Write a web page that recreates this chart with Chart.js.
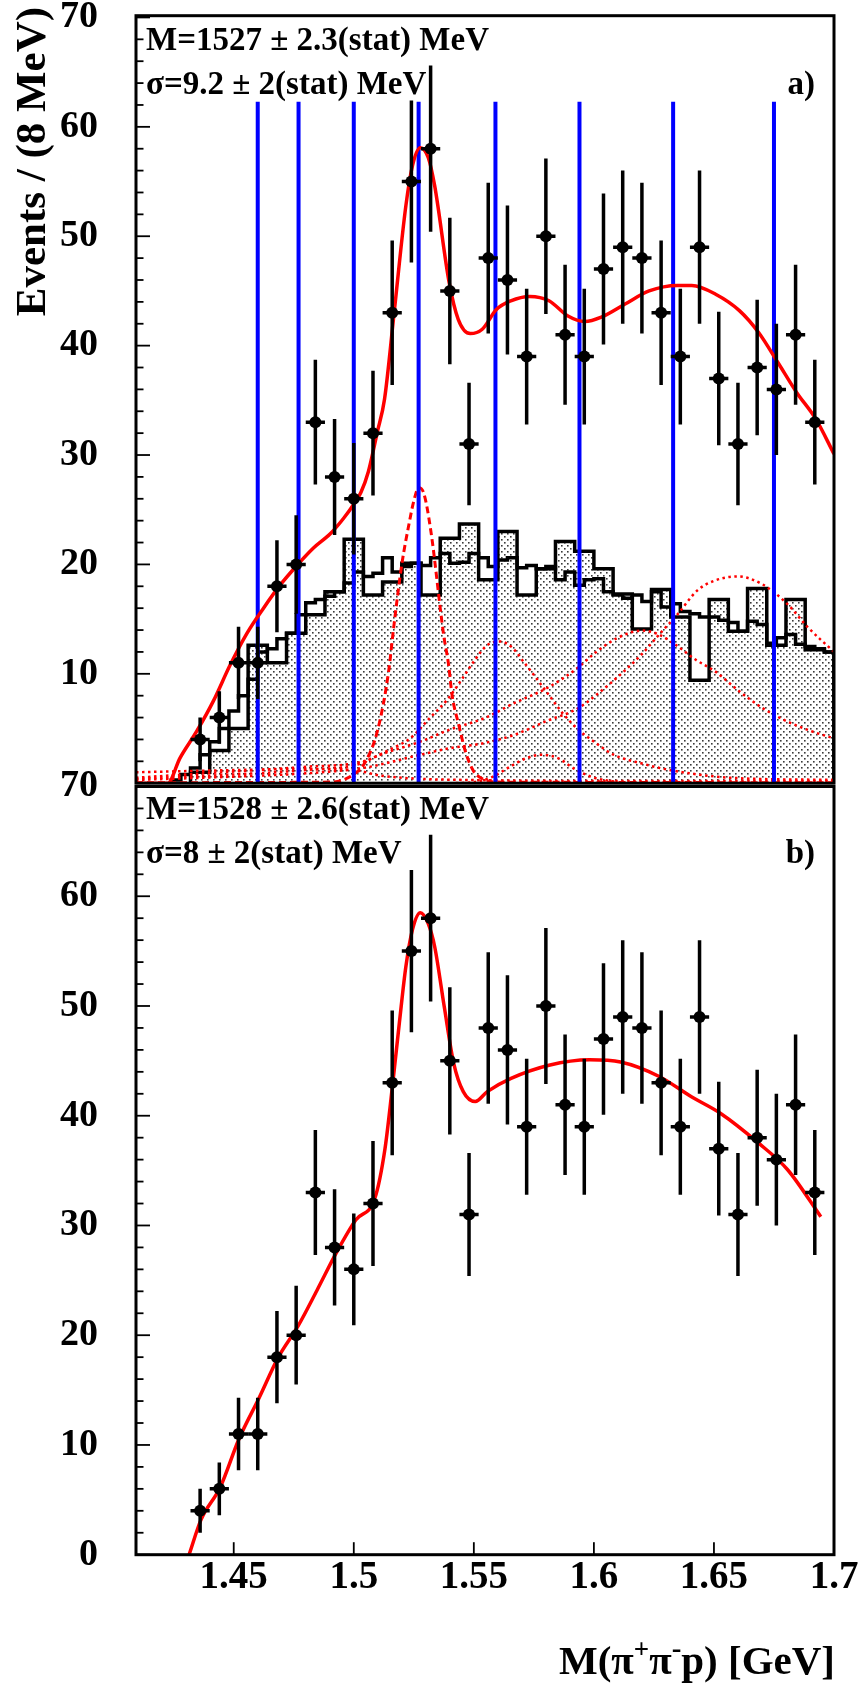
<!DOCTYPE html>
<html><head><meta charset="utf-8">
<script src="https://cdn.jsdelivr.net/npm/chart.js@4.4.1/dist/chart.umd.min.js"></script>
<style>
html,body{margin:0;padding:0;background:#fff;}
#wrap{position:relative;width:865px;height:1686px;overflow:hidden;background:#fff;}
canvas{position:absolute;left:0;}
</style></head><body>
<div id="wrap">
<canvas id="ca" width="865" height="816" style="top:-10px;width:865px;height:816px"></canvas>
<canvas id="cb" width="865" height="946" style="top:740px;width:865px;height:946px"></canvas>
</div>
<script>
// ---------------- data ----------------
const massCenters = [1.436,1.444,1.452,1.460,1.468,1.476,1.484,1.492,1.500,1.508,1.516,1.524,1.532,1.540,1.548,1.556,1.564,1.572,1.580,1.588,1.596,1.604,1.612,1.620,1.628,1.636,1.644,1.652,1.660,1.668,1.676,1.684,1.692];
const events = [4,6,11,11,18,20,33,28,26,32,43,55,58,45,31,48,46,39,50,41,39,47,49,48,43,39,49,37,31,38,36,41,33];
const eventErrors = [2.0,2.4,3.3,3.3,4.2,4.5,5.7,5.3,5.1,5.7,6.6,7.4,7.6,6.7,5.6,6.9,6.8,6.2,7.1,6.4,6.2,6.9,7.0,6.9,6.6,6.2,7.0,6.1,5.6,6.2,6.0,6.4,5.7];
const binHalfWidth = 0.004;

// shaded (dotted-fill) histogram, 8 MeV bins
const shadedEdges = [1.432,1.440,1.448,1.456,1.464,1.472,1.480,1.488,1.496,1.504,1.512,1.520,1.528,1.536,1.544,1.552,1.560,1.568,1.576,1.584,1.592,1.600,1.608,1.616,1.624,1.632,1.640,1.648,1.656,1.664,1.672,1.680,1.688,1.696,1.700];
const shadedValues = [1.0,3.0,5.0,12.6,11.0,13.7,15.4,17.5,22.3,17.2,18.4,20.1,17.2,22.4,23.7,18.6,23.0,17.2,19.6,22.1,21.2,19.6,17.3,14.1,17.7,15.2,9.4,16.8,13.9,17.8,12.6,16.8,12.2,12.0];

// open outline histogram, 4 MeV bins starting at 1.424
const outlineStart = 1.424;
const outlineBinWidth = 0.004;
const outlineValues = [0.3,0.8,1.4,2.6,3.8,5.0,6.6,8.0,9.5,12.0,12.3,13.2,13.7,15.4,16.5,16.8,17.1,17.5,18.3,19.3,18.9,19.2,20.6,19.3,19.8,20.1,19.9,20.6,21.0,20.1,20.2,21.0,20.6,19.8,20.4,20.6,19.7,19.9,19.6,19.8,18.6,19.3,18.1,18.6,18.7,17.5,17.2,16.9,17.2,16.6,17.5,16.1,16.4,15.7,15.5,15.2,15.2,14.9,14.7,13.9,14.8,14.5,12.8,13.3,13.6,12.7,12.5,12.3,12.0];

// total fit, panel a
const fitAX = [1.4093,1.4225,1.4276,1.4346,1.4415,1.4485,1.4555,1.4624,1.4693,1.4763,1.4832,1.4902,1.4957,1.5000,1.5030,1.5061,1.5098,1.5128,1.5168,1.5217,1.5245,1.5277,1.5310,1.5337,1.5397,1.5435,1.5485,1.5535,1.5594,1.5654,1.5733,1.5813,1.5892,1.5962,1.6031,1.6130,1.6230,1.6348,1.6408,1.6507,1.6606,1.6686,1.6765,1.6845,1.6924,1.7000];
const fitAY = [0,0,2.3,4.75,7.5,10.8,13.7,16.0,18.1,19.9,21.5,22.8,24.2,25.5,26.6,28.5,32.1,35.1,43.0,52.8,56.5,58.1,57.2,54.6,45.8,42.4,41.1,41.5,43.3,44.1,44.5,44.1,42.7,42.2,42.6,43.8,45.0,45.5,45.5,44.7,43.2,41.2,38.5,35.7,33.3,30.1];

// signal gaussian (dashed), panel a
const signalX = [1.4093,1.4900,1.5000,1.5050,1.5100,1.5145,1.5166,1.5200,1.5230,1.5250,1.5270,1.5290,1.5320,1.5374,1.5395,1.5409,1.5437,1.5465,1.5499,1.5541,1.5600,1.7000];
const signalY = [0.05,0.1,0.8,2.0,4.9,10.2,14.2,20.0,23.7,25.8,27.0,26.6,23.2,13.6,10.8,8.1,5.35,2.9,1.1,0.35,0.1,0.05];

// background components (dotted), panel a
const comp1X = [1.4093,1.4300,1.4600,1.4800,1.5041,1.5152,1.5235,1.5318,1.5388,1.5450,1.5502,1.5555,1.5610,1.5660,1.5707,1.5760,1.5818,1.5870,1.5930,1.6000,1.6083,1.6200,1.6305,1.6569,1.7000];
const comp1Y = [0.5,0.8,1.2,1.5,2.0,3.1,4.1,6.0,7.6,9.5,11.2,12.6,12.95,12.4,11.1,9.6,7.9,6.4,5.0,3.8,2.6,1.8,1.25,0.5,0.3];
const comp2X = [1.4093,1.4500,1.4800,1.5013,1.5110,1.5277,1.5400,1.5550,1.5666,1.5805,1.5930,1.6010,1.6100,1.6200,1.6270,1.6340,1.6423,1.6506,1.6600,1.6700,1.6800,1.6900,1.7000];
const comp2Y = [0.4,0.8,1.2,1.7,2.6,3.8,4.9,6.0,7.3,8.7,10.5,12.0,13.3,13.95,13.6,12.65,11.3,10.2,8.5,6.9,5.7,4.8,4.1];
const comp3X = [1.5400,1.5500,1.5580,1.5650,1.5720,1.5780,1.5850,1.5920,1.6000,1.6100];
const comp3Y = [0,0.1,0.6,1.5,2.3,2.6,2.3,1.3,0.5,0.1];
const comp4X = [1.4093,1.4500,1.4800,1.5041,1.5277,1.5400,1.5527,1.5666,1.5805,1.5930,1.6006,1.6124,1.6200,1.6272,1.6347,1.6430,1.6500,1.6600,1.6700,1.6805,1.6889,1.7000];
const comp4Y = [0.3,0.6,0.9,1.4,2.6,3.2,3.6,4.4,5.7,6.8,8.0,10.2,11.8,13.6,15.4,17.6,18.5,18.9,18.2,16.4,14.3,12.0];
const comp5X = [1.4093,1.4500,1.4800,1.5000,1.5110,1.5277,1.5450,1.6000,1.7000];
const comp5Y = [1.0,1.2,1.3,1.2,0.7,0.4,0.3,0.2,0.2];

// blue marker lines, panel a
const blueLineMasses = [1.460,1.477,1.500,1.527,1.559,1.594,1.633,1.675];
const blueLineTop = 62.3;

// total fit, panel b
const fitBX = [1.4314,1.4364,1.4445,1.4521,1.4606,1.4686,1.4767,1.4847,1.4927,1.5008,1.5088,1.5130,1.5160,1.5190,1.5217,1.5245,1.5277,1.5310,1.5337,1.5377,1.5416,1.5456,1.5506,1.5556,1.5655,1.5813,1.5982,1.6111,1.6270,1.6408,1.6528,1.6686,1.6806,1.6945];
const fitBY = [0,3.2,6.2,10.5,14.3,18.0,20.8,24.1,27.5,30.5,32.5,37.0,42.5,48.5,53.6,57.0,58.5,57.5,55.4,49.9,44.8,42.2,41.3,42.2,43.4,44.6,45.1,44.9,43.6,41.7,40.2,37.5,35.1,30.8];

// axes
const xMin = 1.4093, xMax = 1.70;
const yTickValues = [0,10,20,30,40,50,60,70];
const xTickValues = [1.45,1.5,1.55,1.6,1.65,1.7];
const xTickLabels = ['1.45','1.5','1.55','1.6','1.65','1.7'];

// ---------------- helpers ----------------
const zip = (xs, ys) => xs.map((x, i) => ({x: x, y: ys[i]}));
function stepPoints(edges, vals) {
  const pts = [{x: edges[0], y: 0}];
  for (let i = 0; i < vals.length; i++) {
    pts.push({x: edges[i], y: vals[i]});
    pts.push({x: edges[i + 1], y: vals[i]});
  }
  pts.push({x: edges[edges.length - 1], y: 0});
  return pts;
}
const outlineEdges = [];
for (let i = 0; i <= outlineValues.length; i++) outlineEdges.push(Math.round((outlineStart + i * outlineBinWidth) * 1e6) / 1e6);

const SERIF = '"Liberation Serif", "Times New Roman", serif';

// dotted fill pattern
const patCanvas = document.createElement('canvas');
patCanvas.width = 6; patCanvas.height = 6;
const pctx = patCanvas.getContext('2d');
pctx.fillStyle = '#ffffff'; pctx.fillRect(0, 0, 6, 6);
pctx.fillStyle = '#3a3a3a';
pctx.fillRect(0, 0, 1.6, 1.6);
pctx.fillRect(3, 3, 1.6, 1.6);
const dotPattern = document.getElementById('ca').getContext('2d').createPattern(patCanvas, 'repeat');

// ---------------- plugin: frame, ticks, error bars, texts ----------------
const panelPlugin = {
  id: 'panel',
  afterDatasetsDraw(chart, args, o) {
    const {ctx, chartArea: ca, scales: {x, y}} = chart;
    ctx.save();
    ctx.beginPath(); ctx.rect(ca.left, ca.top, ca.right - ca.left, ca.bottom - ca.top); ctx.clip();
    ctx.strokeStyle = '#000'; ctx.lineWidth = 3.5; ctx.lineCap = 'butt';
    massCenters.forEach((m, i) => {
      const px = x.getPixelForValue(m), py = y.getPixelForValue(events[i]);
      ctx.beginPath();
      ctx.moveTo(px, y.getPixelForValue(events[i] + eventErrors[i]));
      ctx.lineTo(px, y.getPixelForValue(events[i] - eventErrors[i]));
      ctx.stroke();
      ctx.beginPath();
      ctx.moveTo(x.getPixelForValue(m - binHalfWidth), py);
      ctx.lineTo(x.getPixelForValue(m + binHalfWidth), py);
      ctx.stroke();
    });
    ctx.restore();
  },
  afterDraw(chart, args, o) {
    const {ctx, chartArea: ca, scales: {x, y}} = chart;
    ctx.save();
    ctx.strokeStyle = '#000';
    ctx.lineWidth = 1.8;
    for (let v = 0; v <= 70; v += 2) {
      const py = y.getPixelForValue(v);
      const len = (v % 10 === 0) ? 14 : 7.5;
      ctx.beginPath(); ctx.moveTo(ca.left, py); ctx.lineTo(ca.left + len, py); ctx.stroke();
    }
    if (o.xTicks) {
      xTickValues.forEach(v => {
        const px = x.getPixelForValue(v);
        ctx.beginPath(); ctx.moveTo(px, ca.bottom); ctx.lineTo(px, ca.bottom - 12.5); ctx.stroke();
      });
    }
    ctx.lineWidth = 3;
    ctx.strokeRect(ca.left, ca.top, ca.right - ca.left, ca.bottom - ca.top);

    ctx.fillStyle = '#000';
    ctx.textBaseline = 'alphabetic';
    ctx.font = 'bold 33px ' + SERIF;
    ctx.textAlign = 'left';
    ctx.fillText(o.line1, ca.left + 10, ca.top + o.y1);
    ctx.fillText(o.line2, ca.left + 10, ca.top + o.y2);
    ctx.textAlign = 'right';
    ctx.fillText(o.tag, ca.right - 19, ca.top + o.y2);

    if (o.yTitle) {
      ctx.save();
      ctx.translate(ca.left - 91, ca.top - 8.7);
      ctx.rotate(-Math.PI / 2);
      ctx.font = 'bold 43px ' + SERIF;
      ctx.textAlign = 'right';
      ctx.fillText('Events / (8 MeV)', 0, 0);
      ctx.restore();
    }
    if (o.xTitle) {
      const parts = [['M(\u03c0', 41, 0], ['+', 27, -16], ['\u03c0', 41, 0], ['-', 29, -16], ['p) [GeV]', 41, 0]];
      let total = 0;
      parts.forEach(p => { ctx.font = 'bold ' + p[1] + 'px ' + SERIF; p.push(ctx.measureText(p[0]).width); total += p[3]; });
      let cx = ca.right + 1 - total;
      const base = ca.bottom + 119;
      ctx.textAlign = 'left';
      parts.forEach(p => { ctx.font = 'bold ' + p[1] + 'px ' + SERIF; ctx.fillText(p[0], cx, base + p[2]); cx += p[3]; });
    }
    ctx.restore();
  }
};

// ---------------- dataset builders ----------------
function curve(data, color, width, dash, order) {
  return {data: data, borderColor: color, borderWidth: width, borderDash: dash || [], pointRadius: 0,
          cubicInterpolationMode: 'monotone', fill: false, order: order, borderCapStyle: 'butt'};
}
function pointsDataset() {
  return {data: zip(massCenters, events), showLine: false, pointRadius: 6, pointBackgroundColor: '#000',
          pointBorderWidth: 0, pointBorderColor: '#000', order: 0};
}
function yScale(maxV, tickVals) {
  return {
    type: 'linear', min: 0, max: maxV,
    afterFit: s => { s.width = 136; },
    afterBuildTicks: s => { s.ticks = tickVals.map(v => ({value: v})); },
    grid: {display: true, drawOnChartArea: false, drawTicks: true, tickLength: 38, tickColor: 'rgba(0,0,0,0)'},
    border: {display: false},
    ticks: {padding: 0, autoSkip: false, color: '#000', font: {family: SERIF, size: 38, weight: 'bold'}, callback: v => String(v)}
  };
}

// ---------------- panel a ----------------
const dsA = [pointsDataset(), curve(zip(fitAX, fitAY), '#ff0000', 3.5, [], 1)];
blueLineMasses.forEach(m => dsA.push({data: [{x: m, y: 0}, {x: m, y: blueLineTop}], borderColor: '#0000ff', borderWidth: 4, pointRadius: 0, fill: false, order: 2}));
dsA.push(curve(zip(signalX, signalY), '#ff0000', 3, [7, 4], 3));
[[comp1X, comp1Y], [comp2X, comp2Y], [comp3X, comp3Y], [comp4X, comp4Y], [comp5X, comp5Y]].forEach(c => {
  dsA.push(curve(zip(c[0], c[1]), '#ff0000', 2.5, [2.5, 3.5], 4));
});
dsA.push({data: stepPoints(outlineEdges, outlineValues), borderColor: '#000', borderWidth: 3.5, pointRadius: 0, tension: 0, fill: false, order: 5, borderJoinStyle: 'miter'});
dsA.push({data: stepPoints(shadedEdges, shadedValues), borderColor: '#000', borderWidth: 3.5, pointRadius: 0, tension: 0, fill: 'origin', backgroundColor: dotPattern, order: 6, borderJoinStyle: 'miter'});

new Chart(document.getElementById('ca'), {
  type: 'line',
  data: {datasets: dsA},
  options: {
    responsive: false, animation: false, events: [],
    layout: {padding: {left: 0, right: 31, top: 25.7, bottom: 20.6}},
    plugins: {legend: {display: false}, tooltip: {enabled: false},
      panel: {line1: 'M=1527 \u00b1 2.3(stat) MeV', line2: '\u03c3=9.2 \u00b1 2(stat) MeV', tag: 'a)', y1: 34.3, y2: 78.3, yTitle: true, xTitle: false, xTicks: false}},
    scales: {
      x: {type: 'linear', display: false, min: xMin, max: xMax},
      y: yScale(70.16, yTickValues.filter(v => v > 0))
    }
  },
  plugins: [panelPlugin]
});

// ---------------- panel b ----------------
const dsB = [pointsDataset(), curve(zip(fitBX, fitBY), '#ff0000', 3.5, [], 1)];
new Chart(document.getElementById('cb'), {
  type: 'line',
  data: {datasets: dsB},
  options: {
    responsive: false, animation: false, events: [],
    layout: {padding: {left: 0, right: 31, top: 46.5, bottom: 0}},
    plugins: {legend: {display: false}, tooltip: {enabled: false},
      panel: {line1: 'M=1528 \u00b1 2.6(stat) MeV', line2: '\u03c3=8 \u00b1 2(stat) MeV', tag: 'b)', y1: 32.8, y2: 76.8, yTitle: false, xTitle: true, xTicks: true}},
    scales: {
      x: {type: 'linear', min: xMin, max: xMax,
          afterFit: s => { s.height = 131.3; },
          afterBuildTicks: s => { s.ticks = xTickValues.map(v => ({value: v})); },
          grid: {display: true, drawOnChartArea: false, drawTicks: false},
          border: {display: false},
          ticks: {padding: 0, autoSkip: false, maxRotation: 0, minRotation: 0, color: '#000',
                   font: {family: SERIF, size: 39, weight: 'bold'}, callback: (v, i) => xTickLabels[i]}},
      y: yScale(70.0, yTickValues)
    }
  },
  plugins: [panelPlugin]
});
</script>
</body></html>
